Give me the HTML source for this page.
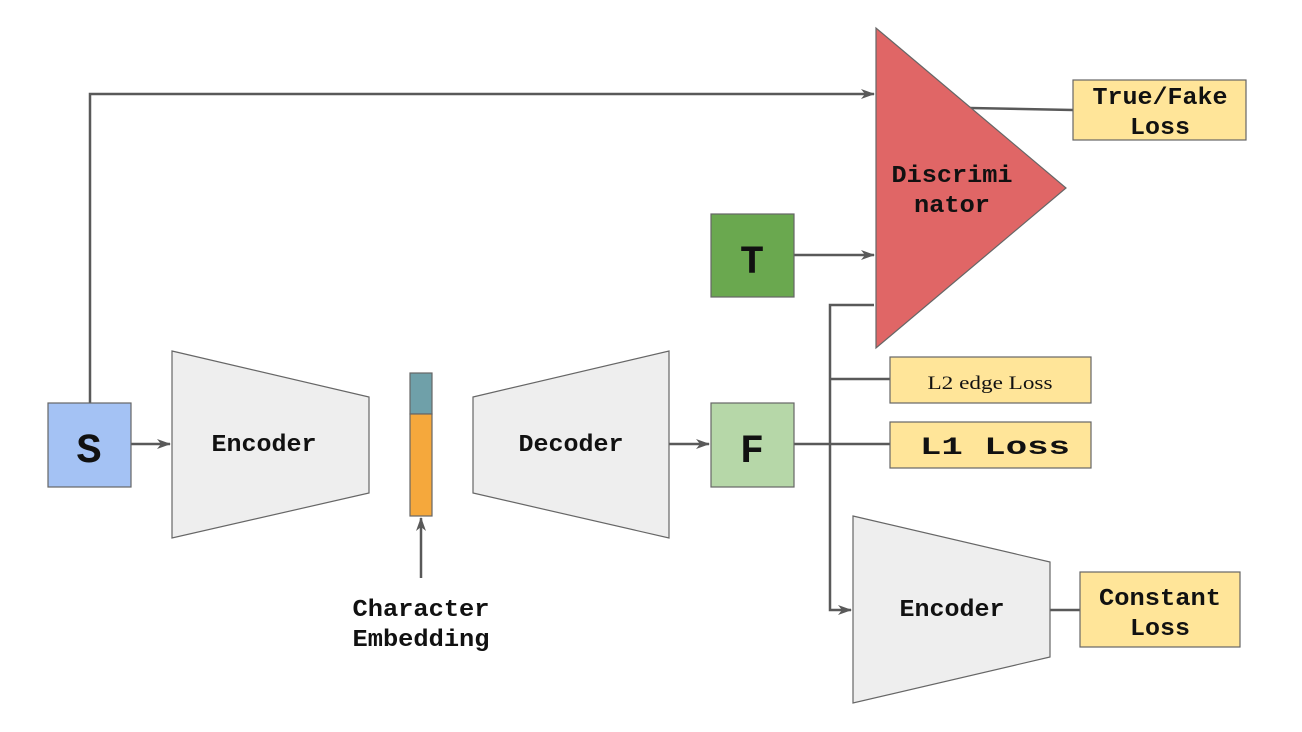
<!DOCTYPE html>
<html><head><style>body{margin:0;background:#fff}svg{display:block}text{font-family:"Liberation Mono",monospace;font-weight:bold;fill:#111}</style></head><body>
<svg width="1302" height="732" viewBox="0 0 1302 732">
<defs><marker id="a" markerWidth="14" markerHeight="12" refX="13" refY="6" orient="auto" markerUnits="userSpaceOnUse"><path d="M0,1 L14,6 L0,11 L4,6Z" fill="#595959"/></marker></defs>
<g stroke="#595959" stroke-width="2.5" fill="none">
<polyline points="90,403 90,94 874,94" marker-end="url(#a)"/>
<line x1="794" y1="255" x2="874" y2="255" marker-end="url(#a)"/>
<line x1="131" y1="444" x2="170" y2="444" marker-end="url(#a)"/>
<line x1="669" y1="444" x2="709" y2="444" marker-end="url(#a)"/>
<line x1="421" y1="578" x2="421" y2="518" marker-end="url(#a)"/>
<polyline points="874,305 830,305 830,610 851,610" marker-end="url(#a)"/>
<line x1="831" y1="379" x2="890" y2="379"/>
<line x1="794" y1="444" x2="890" y2="444"/>
<line x1="1050" y1="610" x2="1080" y2="610"/>
<line x1="970" y1="108" x2="1073" y2="110"/>
</g>
<g stroke="#666" stroke-width="1.2">
<polygon points="172,351 369,397 369,493 172,538" fill="#eeeeee"/>
<polygon points="473,397 669,351 669,538 473,493" fill="#eeeeee"/>
<polygon points="853,516 1050,562 1050,657 853,703" fill="#eeeeee"/>
<rect x="410" y="373" width="22" height="41" fill="#6fa0a9"/>
<rect x="410" y="414" width="22" height="102" fill="#f5a83c"/>
<rect x="48" y="403" width="83" height="84" fill="#a4c2f4"/>
<rect x="711" y="403" width="83" height="84" fill="#b6d7a8"/>
<rect x="711" y="214" width="83" height="83" fill="#6aa84f"/>
<polygon points="876,28 876,348 1066,188" fill="#e06666"/>
<rect x="1073" y="80" width="173" height="60" fill="#ffe599"/>
<rect x="890" y="357" width="201" height="46" fill="#ffe599"/>
<rect x="890" y="422" width="201" height="46" fill="#ffe599"/>
<rect x="1080" y="572" width="160" height="75" fill="#ffe599"/>
</g>
<g text-anchor="middle">
<text x="89" y="462" font-size="42">S</text>
<text x="752" y="462" font-size="40">F</text>
<text x="752" y="273" font-size="40">T</text>
<text x="264" y="451" font-size="24" textLength="105" lengthAdjust="spacingAndGlyphs">Encoder</text>
<text x="571" y="451" font-size="24" textLength="105" lengthAdjust="spacingAndGlyphs">Decoder</text>
<text x="952" y="616" font-size="24" textLength="105" lengthAdjust="spacingAndGlyphs">Encoder</text>
<text x="421" y="616" font-size="24" textLength="137" lengthAdjust="spacingAndGlyphs">Character</text>
<text x="421" y="646" font-size="24" textLength="137" lengthAdjust="spacingAndGlyphs">Embedding</text>
<text x="952" y="182" font-size="24" textLength="121" lengthAdjust="spacingAndGlyphs">Discrimi</text>
<text x="952" y="212" font-size="24" textLength="76" lengthAdjust="spacingAndGlyphs">nator</text>
<text x="1160" y="104" font-size="24" textLength="135" lengthAdjust="spacingAndGlyphs">True/Fake</text>
<text x="1160" y="134" font-size="24" textLength="60" lengthAdjust="spacingAndGlyphs">Loss</text>
<text x="990" y="389" font-size="19" style="font-family:'Liberation Serif',serif;font-weight:normal" textLength="125" lengthAdjust="spacingAndGlyphs">L2 edge Loss</text>
<text x="995" y="454" font-size="25" textLength="150" lengthAdjust="spacingAndGlyphs">L1 Loss</text>
<text x="1160" y="605" font-size="24" textLength="122" lengthAdjust="spacingAndGlyphs">Constant</text>
<text x="1160" y="635" font-size="24" textLength="60" lengthAdjust="spacingAndGlyphs">Loss</text>
</g>
</svg>
</body></html>
